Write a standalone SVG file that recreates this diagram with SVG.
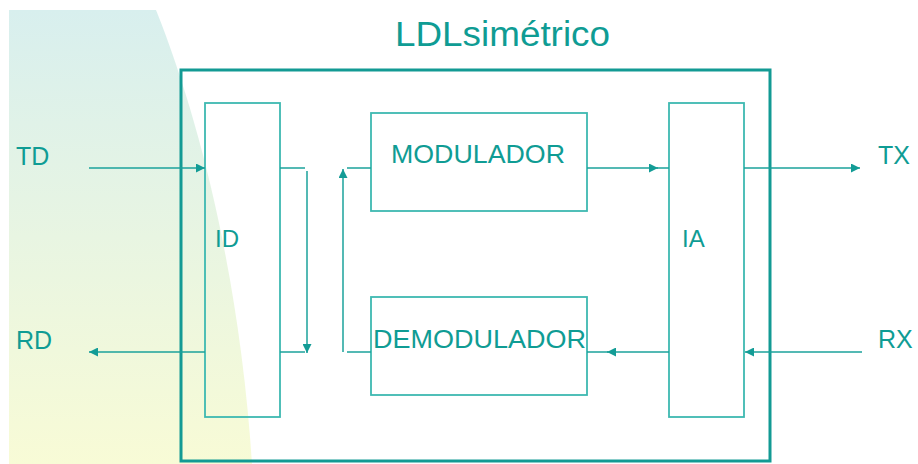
<svg xmlns="http://www.w3.org/2000/svg" width="918" height="464" viewBox="0 0 918 464">
<defs>
<linearGradient id="bg" x1="0" y1="0" x2="0" y2="1">
<stop offset="0" stop-color="#d8efee"/>
<stop offset="1" stop-color="#f8fbd6"/>
</linearGradient>
<marker id="ah" viewBox="0 0 10 10" refX="10" refY="5" markerWidth="9" markerHeight="9" markerUnits="userSpaceOnUse" orient="auto">
<path d="M0,0 L10,5 L0,10 z" fill="#139c96"/>
</marker>
<style>
.t{font-family:"Liberation Sans",Arial,sans-serif;fill:#0f9c94}
.box{fill:none;stroke:#3db9b1;stroke-width:1.8}
.ln{fill:none;stroke:#1ba29b;stroke-width:1.5}
</style>
</defs>
<path d="M9,10 L156,10 C200,120 240,280 252,464 L9,464 z" fill="url(#bg)"/>
<text class="t" x="395" y="46" font-size="35" textLength="215" lengthAdjust="spacingAndGlyphs">LDLsimétrico</text>
<g id="outer"><rect x="181" y="70" width="589" height="391" fill="none" stroke="#139a94" stroke-width="3"/></g>
<g id="ID"><rect class="box" x="205" y="103" width="75" height="314"/><text class="t" x="215" y="247" font-size="24">ID</text></g>
<g id="MOD"><rect class="box" x="371" y="113" width="216" height="98"/><text class="t" x="391" y="163" font-size="26" textLength="174" lengthAdjust="spacingAndGlyphs">MODULADOR</text></g>
<g id="DEMOD"><rect class="box" x="371" y="297" width="216" height="98"/><text class="t" x="373" y="348" font-size="26" textLength="213" lengthAdjust="spacingAndGlyphs">DEMODULADOR</text></g>
<g id="IA"><rect class="box" x="669" y="103" width="75" height="314"/><text class="t" x="682" y="247" font-size="24">IA</text></g>
<g id="labels">
<text class="t" x="16" y="165" font-size="25">TD</text>
<text class="t" x="16" y="349" font-size="25">RD</text>
<text class="t" x="878" y="164" font-size="25">TX</text>
<text class="t" x="878" y="348" font-size="25">RX</text>
</g>
<g id="connectors">
<line class="ln" x1="89" y1="168" x2="205" y2="168" marker-end="url(#ah)"/>
<line class="ln" x1="205" y1="352" x2="89" y2="352" marker-end="url(#ah)"/>
<line class="ln" x1="280" y1="168" x2="305" y2="168"/>
<line class="ln" x1="307" y1="171" x2="307" y2="353" marker-end="url(#ah)"/>
<line class="ln" x1="280" y1="352" x2="305" y2="352"/>
<line class="ln" x1="343" y1="352" x2="343" y2="169" marker-end="url(#ah)"/>
<line class="ln" x1="347" y1="168" x2="371" y2="168"/>
<line class="ln" x1="347" y1="352" x2="371" y2="352"/>
<line class="ln" x1="587" y1="168" x2="658" y2="168" marker-end="url(#ah)"/>
<line class="ln" x1="657" y1="168" x2="669" y2="168"/>
<line class="ln" x1="669" y1="352" x2="607" y2="352" marker-end="url(#ah)"/>
<line class="ln" x1="608" y1="352" x2="587" y2="352"/>
<line class="ln" x1="744" y1="168" x2="860" y2="168" marker-end="url(#ah)"/>
<line class="ln" x1="862" y1="352" x2="745" y2="352" marker-end="url(#ah)"/>
</g>
</svg>
